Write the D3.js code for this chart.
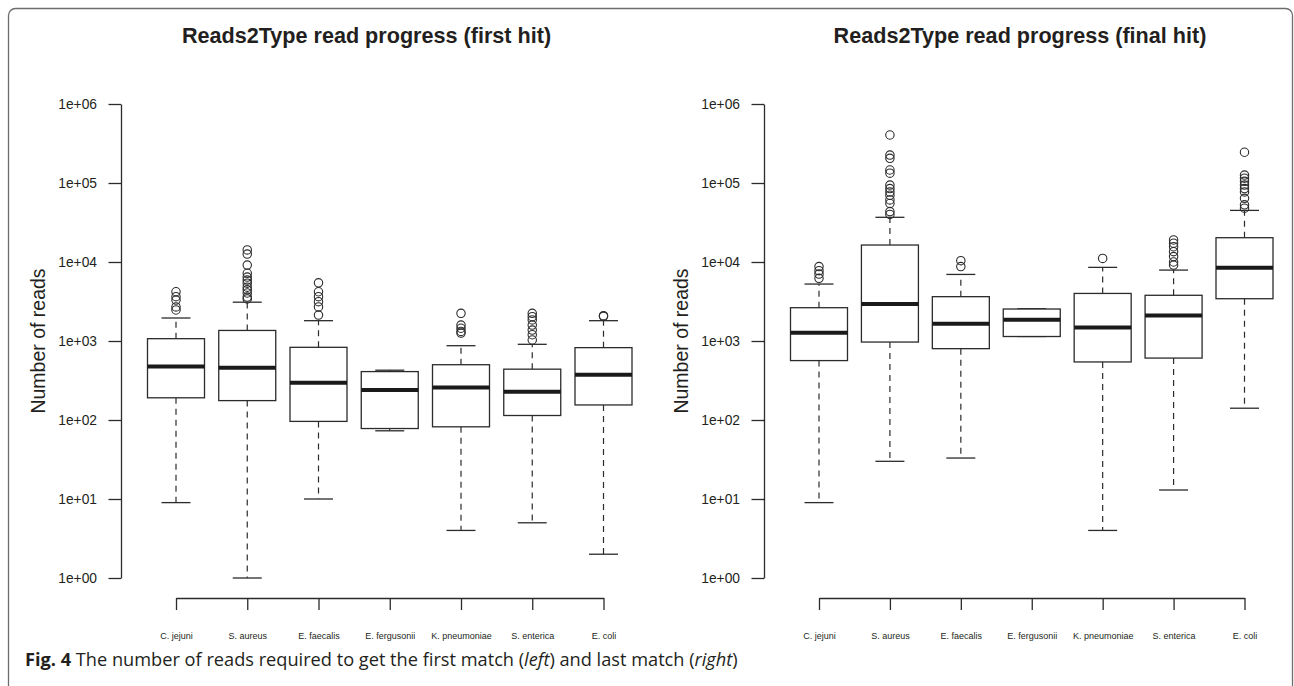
<!DOCTYPE html>
<html>
<head>
<meta charset="utf-8">
<script src="https://cdn.jsdelivr.net/npm/d3@7"></script>
<style>
  body { margin: 0; background: #fff; }
  svg { display: block; }
</style>
</head>
<body>
<div id="chart"></div>
<script>
// species on the x axis (same for both panels)
const species = ["C. jejuni", "S. aureus", "E. faecalis", "E. fergusonii", "K. pneumoniae", "S. enterica", "E. coli"];

// y axis ticks
const yTicks = [1, 10, 100, 1000, 10000, 100000, 1000000];
const yTickLabels = ["1e+00", "1e+01", "1e+02", "1e+03", "1e+04", "1e+05", "1e+06"];

// first hit (left panel)
const firstLow    = [9, 1, 10, 73, 4, 5, 2];
const firstQ1     = [191, 176, 96, 78, 82, 114, 155];
const firstMedian = [475, 459, 297, 239, 257, 228, 374];
const firstQ3     = [1070, 1360, 832, 410, 501, 440, 824];
const firstHigh   = [1955, 3100, 1808, 427, 872, 908, 1808];
const firstOutliers = [
  [2470, 2700, 3300, 3640, 4200],
  [3400, 3600, 4050, 4450, 4800, 5400, 5900, 6450, 7200, 9150, 12600, 14200],
  [2130, 2700, 3150, 3640, 4200, 5450],
  [],
  [1260, 1320, 1450, 1590, 2240],
  [1030, 1200, 1375, 1590, 1850, 2030, 2240],
  [2050, 2090]
];

// final hit (right panel)
const finalLow    = [9, 30, 33, 1140, 4, 13, 141];
const finalQ1     = [565, 970, 800, 1140, 543, 608, 3430];
const finalMedian = [1270, 2950, 1650, 1860, 1480, 2100, 8480];
const finalQ3     = [2640, 16400, 3640, 2540, 4000, 3790, 20300];
const finalHigh   = [5260, 36800, 6960, 2560, 8550, 7900, 45000];
const finalOutliers = [
  [6210, 7040, 7760, 8760],
  [40000, 43500, 55000, 61000, 70000, 77000, 85000, 94000, 133000, 146000, 205000, 226000, 405000],
  [8760, 10400],
  [],
  [11100],
  [9150, 10000, 11700, 13500, 15600, 17300, 19000],
  [48000, 53000, 64000, 77000, 85000, 94000, 105000, 115000, 126000, 245000]
];

const width = 1294, height = 686;
const ink = "#231f20";
const lineCol = "#2b2b2b";

const svg = d3.select("#chart").append("svg")
    .attr("width", width)
    .attr("height", height);

// figure frame
svg.append("rect")
    .attr("x", 8.5).attr("y", 8.5)
    .attr("width", 1284).attr("height", 684)
    .attr("rx", 7)
    .attr("fill", "none")
    .attr("stroke", "#6d6d6d")
    .attr("stroke-width", 1.3);

let y = d3.scaleLog()
    .domain([1, 1e6])
    .range([578, 104]);

function drawPanel(p) {
  let g = svg.append("g");

  let x = d3.scalePoint()
      .domain(species)
      .range([p.x0, p.x1]);

  let data = species.map(function(s, i) {
    return {name: s, low: p.low[i], q1: p.q1[i], med: p.med[i], q3: p.q3[i], high: p.high[i], out: p.out[i]};
  });

  let boxW = 57, capW = 29;

  // y axis
  let yAxis = g.append("g")
      .attr("transform", `translate(${p.axisX}, 0)`)
      .call(d3.axisLeft(y)
          .tickValues(yTicks)
          .tickFormat(function(d, i) { return yTickLabels[i]; })
          .tickSize(12.5)
          .tickSizeOuter(0)
          .tickPadding(11.5));
  yAxis.selectAll("text")
      .style("font-family", "'Liberation Sans', Arial, sans-serif")
      .style("font-size", "13.8px")
      .attr("fill", ink);

  // x axis
  let xAxis = g.append("g")
      .attr("transform", `translate(0, 598)`)
      .call(d3.axisBottom(x).tickSize(12).tickSizeOuter(0).tickPadding(29));
  xAxis.selectAll("text")
      .attr("dy", null)
      .style("font-family", "'Liberation Sans', Arial, sans-serif")
      .style("font-size", "9px")
      .attr("fill", ink);

  [yAxis, xAxis].forEach(function(a) {
    a.select(".domain").attr("stroke", lineCol).attr("stroke-width", 1.3);
    a.selectAll(".tick line").attr("stroke", lineCol).attr("stroke-width", 1.3);
  });

  let boxes = g.selectAll(".box").data(data).enter()
      .append("g").attr("class", "box");

  // dashed whiskers
  boxes.append("line")
      .attr("x1", function(d) { return x(d.name); })
      .attr("x2", function(d) { return x(d.name); })
      .attr("y1", function(d) { return y(d.q3); })
      .attr("y2", function(d) { return y(d.high); })
      .attr("stroke", lineCol).attr("stroke-width", 1.2)
      .attr("stroke-dasharray", "6,5");
  boxes.append("line")
      .attr("x1", function(d) { return x(d.name); })
      .attr("x2", function(d) { return x(d.name); })
      .attr("y1", function(d) { return y(d.q1); })
      .attr("y2", function(d) { return y(d.low); })
      .attr("stroke", lineCol).attr("stroke-width", 1.2)
      .attr("stroke-dasharray", "6,5");

  // whisker caps
  ["low", "high"].forEach(function(k) {
    boxes.append("line")
        .attr("x1", function(d) { return x(d.name) - capW / 2; })
        .attr("x2", function(d) { return x(d.name) + capW / 2; })
        .attr("y1", function(d) { return y(d[k]); })
        .attr("y2", function(d) { return y(d[k]); })
        .attr("stroke", lineCol).attr("stroke-width", 1.3);
  });

  // box
  boxes.append("rect")
      .attr("x", function(d) { return x(d.name) - boxW / 2; })
      .attr("y", function(d) { return y(d.q3); })
      .attr("width", boxW)
      .attr("height", function(d) { return y(d.q1) - y(d.q3); })
      .attr("fill", "#fff")
      .attr("stroke", lineCol).attr("stroke-width", 1.3);

  // median
  boxes.append("line")
      .attr("x1", function(d) { return x(d.name) - boxW / 2; })
      .attr("x2", function(d) { return x(d.name) + boxW / 2; })
      .attr("y1", function(d) { return y(d.med); })
      .attr("y2", function(d) { return y(d.med); })
      .attr("stroke", "#1a1a1a").attr("stroke-width", 4);

  // outliers
  boxes.selectAll("circle")
      .data(function(d) { return d.out.map(function(v) { return {name: d.name, v: v}; }); })
      .enter().append("circle")
      .attr("cx", function(d) { return x(d.name); })
      .attr("cy", function(d) { return y(d.v); })
      .attr("r", 4.2)
      .attr("fill", "none")
      .attr("stroke", lineCol).attr("stroke-width", 1.1);

  // title
  svg.append("text")
      .attr("x", p.titleX).attr("y", 43)
      .attr("text-anchor", "middle")
      .style("font-family", "'Liberation Sans', Arial, sans-serif")
      .style("font-weight", "bold")
      .style("font-size", "21.6px")
      .attr("fill", ink)
      .text(p.title);

  // y label
  svg.append("text")
      .attr("transform", `translate(${p.labelX}, 341) rotate(-90)`)
      .attr("text-anchor", "middle")
      .style("font-family", "'Liberation Sans', Arial, sans-serif")
      .style("font-size", "19.5px")
      .attr("fill", ink)
      .text("Number of reads");
}

drawPanel({
  axisX: 121, x0: 176, x1: 603.5, titleX: 366.5, labelX: 44.5,
  title: "Reads2Type read progress (first hit)",
  low: firstLow, q1: firstQ1, med: firstMedian, q3: firstQ3, high: firstHigh, out: firstOutliers
});
drawPanel({
  axisX: 764, x0: 819, x1: 1244.5, titleX: 1020, labelX: 687.5,
  title: "Reads2Type read progress (final hit)",
  low: finalLow, q1: finalQ1, med: finalMedian, q3: finalQ3, high: finalHigh, out: finalOutliers
});

// caption
let cap = svg.append("text")
    .attr("x", 25).attr("y", 666)
    .style("font-family", "'Open Sans', 'Noto Sans', sans-serif")
    .style("font-size", "18.2px")
    .attr("fill", ink);
cap.append("tspan").style("font-weight", "bold").text("Fig. 4");
cap.append("tspan").text(" The number of reads required to get the first match (");
cap.append("tspan").style("font-style", "italic").text("left");
cap.append("tspan").text(") and last match (");
cap.append("tspan").style("font-style", "italic").text("right");
cap.append("tspan").text(")");
</script>
</body>
</html>
